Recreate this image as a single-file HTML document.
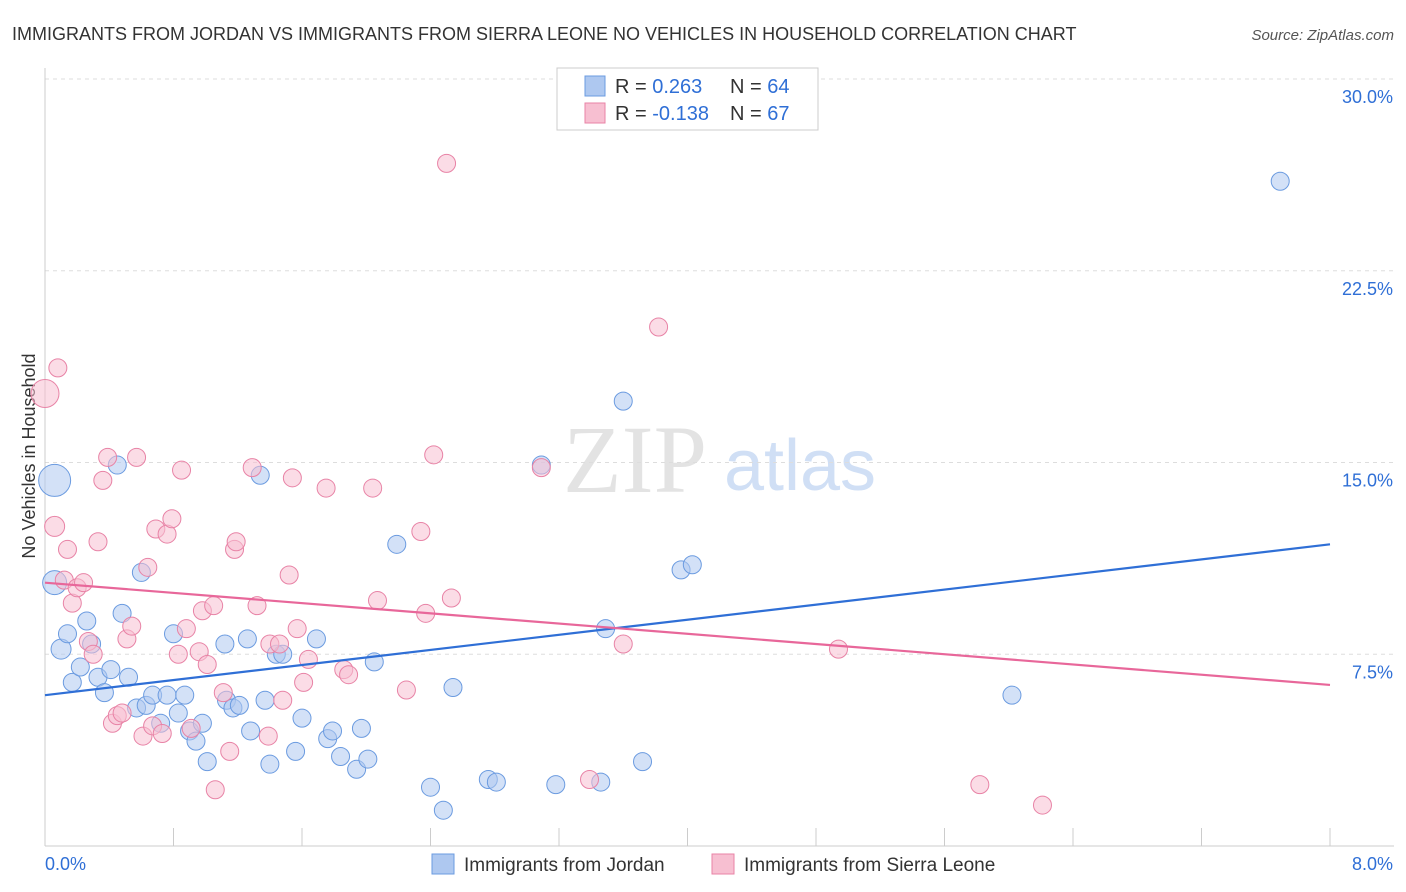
<!DOCTYPE html>
<html><head><meta charset="utf-8"><style>
body{margin:0;background:#fff;font-family:"Liberation Sans",sans-serif;}
svg{display:block}
</style></head><body>
<svg id="chart" width="1406" height="892">
<text x="12" y="40" font-size="18" fill="#333">IMMIGRANTS FROM JORDAN VS IMMIGRANTS FROM SIERRA LEONE NO VEHICLES IN HOUSEHOLD CORRELATION CHART</text>
<text x="1394" y="40" font-size="15" fill="#555" font-style="italic" text-anchor="end">Source: ZipAtlas.com</text>
<text x="35" y="456" font-size="18" fill="#333" text-anchor="middle" transform="rotate(-90 35 456)">No Vehicles in Household</text>
<g><text x="635" y="492" font-size="96" fill="#ddd" font-family="Liberation Serif" text-anchor="middle" opacity="0.8">ZIP</text><text x="800" y="490" font-size="72" fill="#c5d8f3" text-anchor="middle" opacity="0.8">atlas</text></g>
<g id="grid"></g><g id="axes"></g><g id="pts"></g><g id="lines"></g>
<g>
<rect x="557" y="68" width="261" height="62" fill="#fff" stroke="#ccc"/>
<rect x="585" y="76" width="20" height="20" fill="#aec8f0" stroke="#6b9be0"/>
<rect x="585" y="103" width="20" height="20" fill="#f7bfd1" stroke="#e883a6"/>
<text x="615" y="93" font-size="20" fill="#333">R = <tspan fill="#2f6fd6"> 0.263</tspan><tspan x="730">N = </tspan><tspan fill="#2f6fd6">64</tspan></text>
<text x="615" y="120" font-size="20" fill="#333">R = <tspan fill="#2f6fd6">-0.138</tspan><tspan x="730">N = </tspan><tspan fill="#2f6fd6">67</tspan></text>
</g>
<g>
<rect x="432" y="854" width="22" height="20" fill="#aec8f0" stroke="#6b9be0"/>
<text x="464" y="871" font-size="19" fill="#333">Immigrants from Jordan</text>
<rect x="712" y="854" width="22" height="20" fill="#f7bfd1" stroke="#e883a6"/>
<text x="744" y="871" font-size="19" fill="#333">Immigrants from Sierra Leone</text>
</g>
</svg>
<script>
const yTicks=[7.5,15,22.5,30];
const yTickLabels=["7.5%","15.0%","22.5%","30.0%"];
const xTickLabels=["0.0%","8.0%"];
const jordanX=[0.06,0.06,0.1,0.14,0.17,0.22,0.26,0.29,0.33,0.37,0.41,0.45,0.48,0.52,0.57,0.6,0.63,0.67,0.72,0.76,0.8,0.83,0.87,0.9,0.94,0.98,1.01,1.12,1.13,1.17,1.21,1.26,1.28,1.34,1.37,1.4,1.44,1.48,1.56,1.6,1.69,1.76,1.79,1.84,1.94,1.97,2.01,2.05,2.19,2.4,2.48,2.54,2.76,2.81,3.09,3.18,3.46,3.49,3.6,3.72,3.96,4.03,6.02,7.69];
const jordanY=[14.3,10.3,7.7,8.3,6.4,7.0,8.8,7.9,6.6,6.0,6.9,14.9,9.1,6.6,5.4,10.7,5.5,5.9,4.8,5.9,8.3,5.2,5.9,4.5,4.1,4.8,3.3,7.9,5.7,5.4,5.5,8.1,4.5,14.5,5.7,3.2,7.5,7.5,3.7,5.0,8.1,4.2,4.5,3.5,3.0,4.6,3.4,7.2,11.8,2.3,1.4,6.2,2.6,2.5,14.9,2.4,2.5,8.5,17.4,3.3,10.8,11.0,5.9,26.0];
const jordanR=[16,12,10,9,9,9,9,9,9,9,9,9,9,9,9,9,9,9,9,9,9,9,9,9,9,9,9,9,9,9,9,9,9,9,9,9,9,9,9,9,9,9,9,9,9,9,9,9,9,9,9,9,9,9,9,9,9,9,9,9,9,9,9,9];
const sierraX=[0.0,0.06,0.08,0.12,0.14,0.17,0.2,0.24,0.27,0.3,0.33,0.36,0.39,0.42,0.45,0.48,0.51,0.54,0.57,0.61,0.64,0.67,0.69,0.73,0.76,0.79,0.83,0.85,0.88,0.91,0.96,0.98,1.01,1.05,1.06,1.11,1.15,1.18,1.19,1.29,1.32,1.39,1.4,1.46,1.48,1.52,1.54,1.57,1.61,1.64,1.75,1.86,1.89,2.04,2.07,2.25,2.34,2.37,2.42,2.5,2.53,3.09,3.39,3.6,3.82,4.94,5.82,6.21];
const sierraY=[17.7,12.5,18.7,10.4,11.6,9.5,10.1,10.3,8.0,7.5,11.9,14.3,15.2,4.8,5.1,5.2,8.1,8.6,15.2,4.3,10.9,4.7,12.4,4.4,12.2,12.8,7.5,14.7,8.5,4.6,7.6,9.2,7.1,9.4,2.2,6.0,3.7,11.6,11.9,14.8,9.4,4.3,7.9,7.9,5.7,10.6,14.4,8.5,6.4,7.3,14.0,6.9,6.7,14.0,9.6,6.1,12.3,9.1,15.3,26.7,9.7,14.8,2.6,7.9,20.3,7.7,2.4,1.6];
const sierraR=[14,10,9,9,9,9,9,9,9,9,9,9,9,9,9,9,9,9,9,9,9,9,9,9,9,9,9,9,9,9,9,9,9,9,9,9,9,9,9,9,9,9,9,9,9,9,9,9,9,9,9,9,9,9,9,9,9,9,9,9,9,9,9,9,9,9,9,9];
const jordanTrend=[5.9,11.8];
const sierraTrend=[10.3,6.3];
const xMax=8,yMax=30;
const X0=45,X1=1330,Y0=846,Y1=79;
const sx=v=>X0+v/xMax*(X1-X0), sy=v=>Y0-v/yMax*(Y0-Y1);
const NS="http://www.w3.org/2000/svg";
function mk(tag,attrs,parent){const e=document.createElementNS(NS,tag);for(const k in attrs)e.setAttribute(k,attrs[k]);document.getElementById(parent).appendChild(e);return e;}
yTicks.forEach((t,i)=>{
 const l=mk('line',{x1:X0,x2:1394,y1:sy(t),y2:sy(t),stroke:'#ddd','stroke-dasharray':'4,4'},'grid');
 
 
 const tx=mk('text',{x:1393,y:sy(t)+24,'font-size':18,fill:'#2f6fd6','text-anchor':'end'},'grid');
 tx.textContent=yTickLabels[i];
 
 
});
const ax=mk('line',{x1:X0,x2:1394,y1:Y0,y2:Y0,stroke:'#ccc'},'axes');


const ay=mk('line',{x1:X0,x2:X0,y1:68,y2:Y0,stroke:'#ccc'},'axes');


for(let i=0;i<=10;i++){
 const t=mk('line',{x1:sx(i*0.8),x2:sx(i*0.8),y1:Y0,y2:Y0-18,stroke:'#ccc'},'axes');
 
 
}
[[0,'start',xTickLabels[0]],[8,'end',xTickLabels[1]]].forEach(([v,a,s])=>{
 const t=mk('text',{x:v==0?X0:1393,y:870,'font-size':18,fill:'#2f6fd6','text-anchor':a},'axes');
 t.textContent=s;
 
 
});
function pts(xs,ys,rs,fill,stroke,name){
 xs.forEach((x,i)=>{
  const c=mk('circle',{cx:sx(x),cy:sy(ys[i]),r:rs[i],fill:fill,'fill-opacity':0.55,stroke:stroke,'stroke-width':1},'pts');
  
  
 });
}
pts(jordanX,jordanY,jordanR,'#aec8f0','#6b9be0','jordan-point');
pts(sierraX,sierraY,sierraR,'#f7bfd1','#e883a6','sierra-leone-point');
const lj=mk('line',{x1:sx(0),y1:sy(jordanTrend[0]),x2:sx(8),y2:sy(jordanTrend[1]),stroke:'#2f6fd6','stroke-width':2.2},'lines');


const ls=mk('line',{x1:sx(0),y1:sy(sierraTrend[0]),x2:sx(8),y2:sy(sierraTrend[1]),stroke:'#e8679a','stroke-width':2.2},'lines');


</script>
</body></html>
